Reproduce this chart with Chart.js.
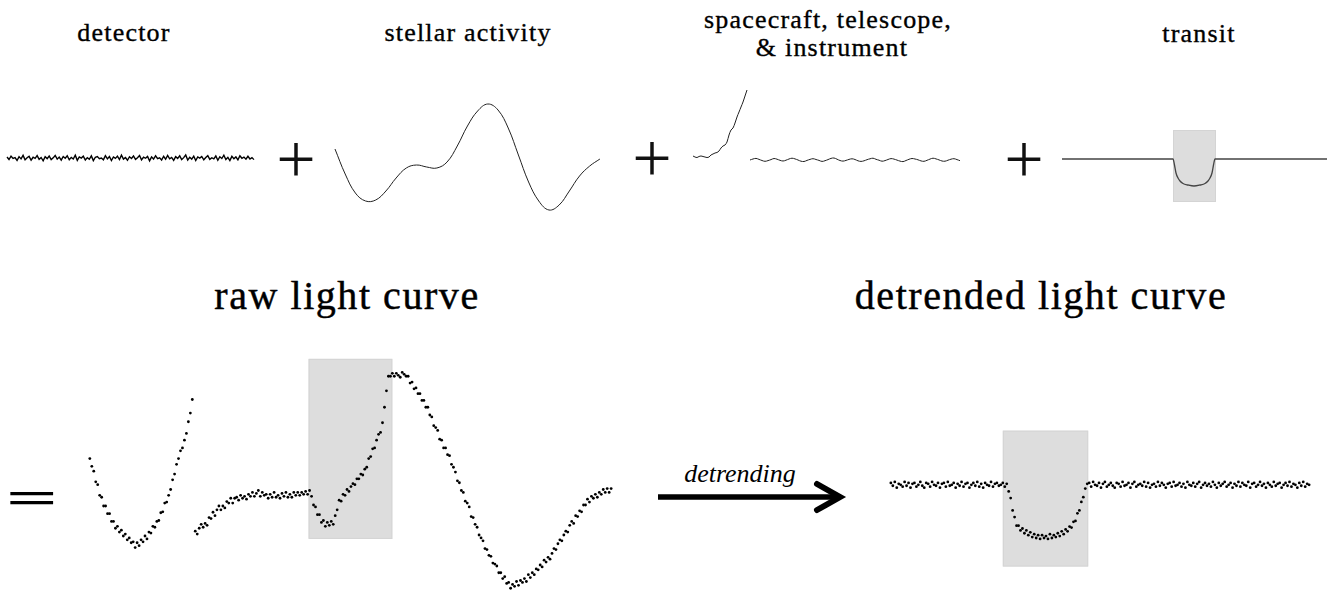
<!DOCTYPE html>
<html>
<head>
<meta charset="utf-8">
<script src="https://cdn.jsdelivr.net/npm/chart.js@4.4.1/dist/chart.umd.min.js"></script>
<style>
    html, body { margin: 0; padding: 0; background: #fff; }
    body { width: 1327px; height: 597px; position: relative; overflow: hidden; }
    canvas { position: absolute; }
    .lbl { position: absolute; font-family: 'Liberation Serif', serif; color: #000; white-space: nowrap; line-height: 1; transform: translateX(-50%); }
    .small { font-size: 26px; letter-spacing: 1.2px; -webkit-text-stroke: 0.35px #000; }
    .big { font-size: 40px; letter-spacing: 1.55px; -webkit-text-stroke: 0.45px #000; }
    .arrow-note { font-style: italic; font-size: 26px; }
</style>
</head>
<body>

<div class="lbl small" style="left:124px; top:20px;">detector</div>
<div class="lbl small" style="left:468px; top:20px;">stellar activity</div>
<div class="lbl small" style="left:828px; top:7px;">spacecraft, telescope,</div>
<div class="lbl small" style="left:832px; top:35px;">&amp; instrument</div>
<div class="lbl small" style="left:1199px; top:21px;">transit</div>

<div class="lbl" style="left:296px; top:125px; font-size:70px; color:#111;">+</div>
<div class="lbl" style="left:652px; top:124px; font-size:70px; color:#111;">+</div>
<div class="lbl" style="left:1024px; top:125px; font-size:70px; color:#111;">+</div>
<div class="lbl" style="left:32px; top:475px; font-size:46px; font-weight:bold; transform:translateX(-50%) scaleX(2.0);">=</div>

<div class="lbl big" style="left:347px; top:276px;">raw light curve</div>
<div class="lbl big" style="left:1041px; top:276px;">detrended light curve</div>
<div class="lbl arrow-note" style="left:740px; top:461px;">detrending</div>

<svg width="1327" height="597" style="position:absolute; left:0; top:0;">
    <line x1="658" y1="497" x2="836" y2="497" stroke="#000" stroke-width="5.5"/>
    <polyline points="817,484 840,497 817,510" fill="none" stroke="#000" stroke-width="6" stroke-linecap="round" stroke-linejoin="miter"/>
</svg>

<canvas id="detectorChart" width="262" height="24" style="left:0px; top:146px;"></canvas>
<canvas id="stellarChart" width="285" height="125" style="left:325px; top:95px;"></canvas>
<canvas id="craftChart" width="280" height="95" style="left:688px; top:80px;"></canvas>
<canvas id="transitChart" width="272" height="90" style="left:1055px; top:120px;"></canvas>
<canvas id="rawChart" width="550" height="250" style="left:74px; top:350px;"></canvas>
<canvas id="flatChart" width="440" height="160" style="left:880px; top:420px;"></canvas>

<script>
// ==========================================
// 1. DATA (flux, arbitrary units)
// ==========================================

// detector noise, cadence 0.1 d
const detectorStart = 0, detectorCadence = 0.1;
const detectorFlux = [
    0.8,-1.2,1.5,-0.4,0.3,-2.0,1.1,-0.7,2.1,-1.5,
    0.2,1.3,-1.8,0.6,-0.3,1.9,-1.1,0.4,-2.2,1.0,
    -0.5,1.6,-1.3,0.1,2.0,-0.9,0.7,-1.7,1.2,-0.2,
    1.8,-1.4,0.5,-0.8,2.2,-1.9,0.9,-0.1,1.4,-1.6,
    0.3,-1.0,1.7,-2.1,0.6,1.1,-0.6,0.0,-1.4,1.9,
    -0.7,1.2,-2.0,0.8,-0.3,1.5,-1.2,2.3,-0.9,0.4,
    -1.8,1.0,-0.4,1.6,-1.1,0.2,2.0,-1.5,0.7,-0.2,
    1.3,-2.3,0.9,-0.8,1.8,-0.5,0.1,-1.6,1.4,-1.0,
    2.1,-0.6,0.5,-1.9,1.1,-0.3,1.7,-1.3,0.3,2.4,
    -1.7,0.6,-0.9,1.5,-2.0,0.8,-0.1,1.2,-1.4,0.4,
    1.9,-1.1,0.2,-0.7,1.6,-1.8,1.0,-0.4,2.2,-1.2,
    0.5,-2.1,1.3,-0.6,0.9,-1.5,1.8,-0.2,0.7,-1.0,
    1.4,-0.8,0.3,-1.3
];

// stellar variability, cadence 1 d
const stellarStart = 0, stellarCadence = 1;
const stellarFlux = [
    1.1,-1.4,-3.3,-4.1,-4.0,-3.1,-1.8,-0.8,-0.5,-0.7,
    -0.8,-0.2,1.4,3.4,4.9,5.6,5.0,3.2,0.5,-2.2,
    -4.1,-5.0,-4.5,-3.1,-1.6,-0.6,0.1
];

// spacecraft systematics: ramp before the gap, jitter after it
const craftStartA = 0.25, craftCadenceA = 0.1;
const craftFluxA = [
    4,3,2.5,3.5,4,3.5,3,2.5,3,5,
    6,7,7.5,9,12,14,15,18,25,30,
    32,37,43,48,53,58,64,70
];
const craftStartB = 3.1, craftCadenceB = 0.15;
const craftFluxB = [
    0,1.0,1.6,0.6,-0.5,-1.3,-0.6,0.4,1.5,0.8,
    -0.3,-1.0,-0.2,1,1.8,1.1,0,-1.2,-1.5,-0.4,
    0.6,1.3,0.5,-0.4,-1.4,-0.7,0.4,1.6,2.0,0.8,
    -0.5,-1.1,-0.4,0.6,1.2,0.5,-0.8,-1.4,-0.8,0.3,
    1.2,1.8,0.7,-0.2,-1.2,-0.6,0.5,1.4,0.9,-0.1,
    -1.1,-1.6,-0.5,0.7,1.5,1.0,0.2,-0.9,-1.3,-0.3,
    0.9,1.8,1.1,0.1,-1.0,-1.2,-0.2,0.8,1.3,0.4,-0.7
];

// transit model (hours from mid-transit, %)
const transitTime = [-13.2,-2.1,-1.95,-1.8,-1.6,-1.4,-1.1,-0.6,0,0.6,1.1,1.4,1.6,1.8,1.95,2.1,13.3];
const transitFlux = [0,0,-0.6,-1.4,-1.9,-2.2,-2.45,-2.6,-2.7,-2.6,-2.45,-2.2,-1.9,-1.4,-0.6,0,0];
const transitWindow = [-2.1, 2.2];
const transitWindowFlux = [-4.3, 2.9];

// raw light curve (ppt), two segments split by the data gap
const rawCadence = 0.1;
const rawStartA = 0.3;
const rawFluxA = [
    4.2,3.4,2.9,1.8,1.5,0.4,0.2,-0.7,-0.7,-1.5,
    -1.5,-2.3,-2.3,-3.0,-2.8,-3.4,-3.2,-3.8,-3.6,-4.2,
    -4.0,-4.5,-4.4,-5.0,-4.5,-4.8,-4.2,-4.4,-3.8,-4.1,
    -3.4,-3.5,-2.8,-2.9,-2.3,-2.2,-1.4,-1.3,-0.4,-0.3,
    0.4,1.0,2.0,2.6,3.6,4.2,5.0,5.3,6.1,6.8,
    8.0,8.9,10.3
];
const rawStartB = 5.65;
const rawFluxB = [
    -3.3,-3.6,-3.0,-2.6,-2.9,-2.5,-2.7,-1.9,-2.0,-1.35,
    -1.7,-1.1,-0.7,-1.1,-0.7,-0.9,-0.25,-0.4,0.1,-0.4,
    0.1,0.2,-0.1,0.4,0.1,0.3,0,0.5,0.3,0.7,
    0.3,0.6,0.9,0.3,0.7,0.4,0.5,0.1,0.5,0.2,
    0.7,0.2,0.4,0.1,0.6,0.3,0.7,0.2,0.5,0.2,
    0.7,0.4,0.7,0.4,0.7,0.5,0.8,0.5,0.9,
    0.3,-0.6,-0.8,-1.6,-1.6,-2.4,-2.2,-2.8,-2.4,-2.7,
    -2.3,-2.6,-1.7,-1.1,-0.1,-0.2,0.5,0.4,1.0,0.8,
    1.3,1.6,1.5,2.1,2.1,2.6,2.5,3.1,3.3,4.2,
    4.4,5.2,5.3,6.1,6.7,6.9,7.9,9.5,11.2,12.7,
    12.7,13.0,12.7,13.0,12.8,12.6,13.1,12.9,12.7,12.7,
    12.0,12.1,11.4,11.5,10.9,10.9,10.2,10.2,9.5,9.5,
    8.7,8.5,7.6,7.4,7.1,6.2,6.1,5.3,5.3,4.6,
    4.5,3.6,3.3,2.8,1.9,1.7,0.9,0.7,-0.2,-0.4,
    -0.8,-1.8,-1.9,-2.6,-2.9,-3.7,-4.0,-4.3,-5.1,-5.2,
    -5.8,-5.9,-6.6,-6.7,-6.9,-7.6,-7.6,-8.2,-8.0,-8.7,
    -8.6,-9.2,-8.8,-9.0,-8.5,-8.9,-8.4,-8.6,-8.2,-8.5,
    -7.8,-8.1,-7.6,-7.8,-7.2,-7.3,-6.8,-7.0,-6.3,-6.5,
    -6.0,-6.2,-5.6,-5.1,-5.2,-4.6,-4.2,-4.3,-3.7,-3.3,
    -3.4,-2.7,-2.3,-2.5,-1.7,-1.8,-1.2,-1.3,-0.6,-0.6,
    0,-0.3,0.3,0.1,0.5,0.2,0.7,0.5,1.0,0.7,
    1.1,0.7,1.1
];
const rawWindow = [11.4, 15.65];
const rawWindowFlux = [-4.1, 14.5];

// detrended light curve (ppt)
const flatStart = 0.35, flatCadence = 0.1;
const flatFlux = [
    0.2,-0.1,0.3,-0.3,0.1,0.0,-0.2,0.3,-0.1,0.2,
    -0.3,0.1,0.2,-0.2,0.0,0.3,-0.1,-0.3,0.2,0.1,
    -0.2,0.3,0.0,-0.1,0.2,-0.3,0.1,0.2,-0.2,0.3,
    -0.1,0.0,0.2,-0.3,0.1,-0.1,0.3,-0.2,0.1,0.2,
    -0.3,0.0,0.2,-0.1,0.3,-0.2,0.1,-0.3,0.2,0.0,
    -0.1,0.3,-0.2,0.1,0.2,-0.1,0.0,0.2,-0.2,
    0.1,-0.7,-1.4,-2.7,-3.4,-4.3,-4.3,-4.8,-4.6,-5.1,
    -4.8,-5.3,-5.0,-5.5,-5.2,-5.6,-5.3,-5.7,-5.3,-5.6,
    -5.4,-5.7,-5.2,-5.6,-5.3,-5.5,-5.1,-5.4,-4.9,-5.2,
    -4.7,-4.9,-4.4,-4.5,-3.9,-3.8,-3.0,-2.7,-1.8,-1.3,
    -0.4,0.1,
    0.2,-0.2,0.3,0.0,-0.1,0.2,-0.3,0.1,0.3,-0.2,
    0.0,0.2,-0.1,-0.3,0.2,0.1,-0.2,0.3,-0.1,0.0,
    0.2,-0.3,0.1,0.3,-0.2,0.0,0.1,-0.1,0.3,-0.2,
    0.2,-0.3,0.0,0.1,-0.2,0.3,-0.1,0.2,0.0,-0.3,
    0.1,0.2,-0.2,0.3,-0.1,0.0,0.2,-0.2,0.1,-0.3,
    0.3,0.0,-0.1,0.2,-0.2,0.1,0.3,-0.3,0.0,0.2,
    -0.1,0.1,-0.2,0.3,0.0,-0.3,0.2,-0.1,0.1,0.3,
    -0.2,0.0,0.2,-0.3,0.1,-0.1,0.3,-0.2,0.2,0.0,
    -0.1,0.3,-0.3,0.1,0.2,-0.2,0.0,0.3,-0.1,0.1,
    -0.3,0.2,0.0,-0.2,0.3,-0.1,0.1,0.2,-0.3,0.0,
    0.2,-0.1,0.3,-0.2,0.1,0.0,-0.3,0.2,-0.1,0.3,
    -0.2,0.1,0.0
];
const flatWindow = [6.05, 10.4];
const flatWindowFlux = [-8.6, 5.7];

// ==========================================
// 2. HELPERS
// ==========================================

// pair an evenly sampled flux list with its time stamps
const sampled = (start, cadence, flux) => flux.map((f, i) => ({ x: +(start + i * cadence).toFixed(4), y: f }));
const paired = (time, flux) => flux.map((f, i) => ({ x: time[i], y: f }));

// grey box marking the in-transit window
const windowShade = {
    id: 'windowShade',
    beforeDatasetsDraw(chart, args, opts) {
        if (!opts || !opts.time) return;
        const { ctx, scales: { x, y } } = chart;
        const x0 = x.getPixelForValue(opts.time[0]);
        const x1 = x.getPixelForValue(opts.time[1]);
        const y0 = y.getPixelForValue(opts.flux[1]);
        const y1 = y.getPixelForValue(opts.flux[0]);
        ctx.save();
        ctx.fillStyle = '#dddddd';
        ctx.fillRect(x0, y0, x1 - x0, y1 - y0);
        ctx.strokeStyle = '#d4d4d4';
        ctx.lineWidth = 1;
        ctx.strokeRect(x0 + 0.5, y0 + 0.5, x1 - x0 - 1, y1 - y0 - 1);
        ctx.restore();
    }
};

const lineSet = (data, extra = {}) => ({
    data, showLine: true, borderColor: '#111', borderWidth: 1, pointRadius: 0, tension: 0, ...extra
});
const dotSet = (data) => ({
    data, showLine: false, pointRadius: 1.4, pointBackgroundColor: '#000', pointBorderWidth: 0
});

function makeChart(id, datasets, xr, yr, shade) {
    return new Chart(document.getElementById(id), {
        type: 'scatter',
        data: { datasets },
        options: {
            responsive: false,
            animation: false,
            devicePixelRatio: 1,
            layout: { padding: 0 },
            plugins: { legend: { display: false }, tooltip: { enabled: false }, windowShade: shade || {} },
            scales: {
                x: { type: 'linear', display: false, min: xr[0], max: xr[1] },
                y: { type: 'linear', display: false, min: yr[0], max: yr[1] }
            }
        },
        plugins: [windowShade]
    });
}

// ==========================================
// 3. PANELS
// ==========================================

makeChart('detectorChart',
    [lineSet(sampled(detectorStart, detectorCadence, detectorFlux), { borderColor: '#000', borderWidth: 1.4 })],
    [-0.349, 12.70], [-9.6, 9.6]);

makeChart('stellarChart',
    [lineSet(sampled(stellarStart, stellarCadence, stellarFlux), { tension: 0.4, borderColor: '#222' })],
    [-0.98, 26.99], [-6, 6.5]);

makeChart('craftChart', [
    lineSet(sampled(craftStartA, craftCadenceA, craftFluxA), { tension: 0.3, borderColor: '#222' }),
    lineSet(sampled(craftStartB, craftCadenceB, craftFluxB), { tension: 0.4, borderColor: '#222' })
], [0, 14], [-15, 80]);

makeChart('transitChart',
    [lineSet(paired(transitTime, transitFlux), { cubicInterpolationMode: 'monotone', borderColor: '#444', borderWidth: 1.3 })],
    [-13.9, 13.3], [-5.1, 3.9],
    { time: transitWindow, flux: transitWindowFlux });

makeChart('rawChart', [
    dotSet(sampled(rawStartA, rawCadence, rawFluxA)),
    dotSet(sampled(rawStartB, rawCadence, rawFluxB))
], [-0.3, 27.2], [-10, 15],
    { time: rawWindow, flux: rawWindowFlux });

makeChart('flatChart',
    [dotSet(sampled(flatStart, flatCadence, flatFlux))],
    [0, 22], [-9.6, 6.4],
    { time: flatWindow, flux: flatWindowFlux });
</script>
</body>
</html>
